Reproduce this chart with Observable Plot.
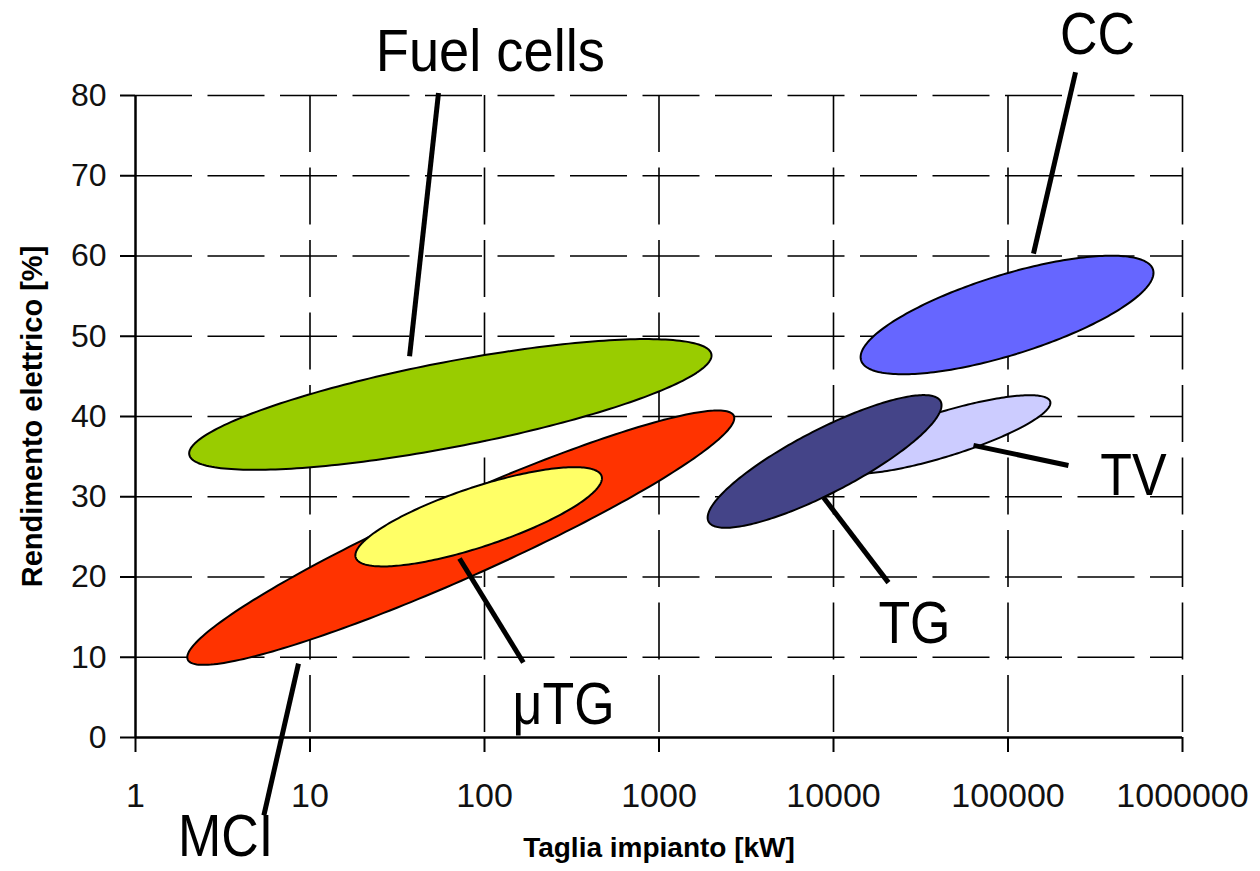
<!DOCTYPE html>
<html><head><meta charset="utf-8">
<script src="https://cdn.jsdelivr.net/npm/d3@7"></script>
<script src="https://cdn.jsdelivr.net/npm/@observablehq/plot@0.6"></script>
<style>html,body{margin:0;padding:0;background:#fff;overflow:hidden}</style>
</head><body><div id="chart"></div>
<script>
// ---- data ----
const technologies = ["Fuel cells", "MCI", "μTG", "CC", "TV", "TG"];
// each band: size range (kW) with efficiency at both ends, and vertical half-spread (%)
const sizeMinKW     = [2.03, 1.98, 18.2, 14300, 10300, 1900];
const effAtMinSize  = [35.4, 10.0, 22.7, 47.4, 33.8, 27.4];
const sizeMaxKW     = [2000, 2700, 471, 682000, 175000, 41600];
const effAtMaxSize  = [47.6, 39.8, 32.3, 57.9, 41.7, 41.4];
const effHalfSpread = [5.4, 5.4, 3.9, 5.2, 2.9, 4.4];

// annotation anchors (data units)
const labelKW    = [108, 3.28, 284, 326000, 524000, 29100];
const labelEff   = [83.1, -14.8, 1.7, 85.2, 30.2, 11.8];
const leaderKW1  = [54.5, 8.59, 71.9, 243800, 63400, 8770];
const leaderEff1 = [80.3, 9.2, 22.3, 82.9, 36.4, 29.9];
const leaderKW2  = [37.2, 5.44, 167, 140000, 222000, 20650];
const leaderEff2 = [47.5, -9.7, 9.35, 60.3, 33.9, 19.3];

const xTicks = [1, 10, 100, 1000, 10000, 100000, 1000000];
const xTickLabels = ["1", "10", "100", "1000", "10000", "100000", "1000000"];
const yTicks = [0, 10, 20, 30, 40, 50, 60, 70, 80];
const xTitle = "Taglia impianto [kW]";
const yTitle = "Rendimento elettrico [%]";

// ---- styles ----
const ellipseFills = ["#99cc00", "#ff3300", "#ffff66", "#6666ff", "#ccccff", "#444488"];
const dash = "57,15.5";

function outline(i) {
  const l0 = Math.log10(sizeMinKW[i]), l1 = Math.log10(sizeMaxKW[i]);
  const cx = (l0 + l1) / 2, ux = (l1 - l0) / 2;
  const cy = (effAtMinSize[i] + effAtMaxSize[i]) / 2, uy = (effAtMaxSize[i] - effAtMinSize[i]) / 2;
  const h = effHalfSpread[i];
  return d3.range(0, 241).map(k => {
    const t = k / 240 * 2 * Math.PI;
    return {kw: Math.pow(10, cx + Math.cos(t) * ux), eff: cy + Math.cos(t) * uy + Math.sin(t) * h};
  });
}

const labels = technologies.map((name, i) => ({name, kw: labelKW[i], eff: labelEff[i]}));
const leaders = technologies.map((name, i) => ({name, kw1: leaderKW1[i], e1: leaderEff1[i], kw2: leaderKW2[i], e2: leaderEff2[i]}));

const marks = [
  Plot.ruleY(yTicks.filter(d => d > 0), {y: d => d, x1: 1, x2: 1e6, stroke: "#000", strokeWidth: 1.6, strokeDasharray: dash}),
  Plot.ruleX(xTicks.filter(d => d > 1), {x: d => d, y1: 80, y2: 0, stroke: "#000", strokeWidth: 1.6, strokeDasharray: dash}),
  Plot.ruleX([1], {x: d => d, y1: 80, y2: 0, stroke: "#000", strokeWidth: 2.5}),
  Plot.ruleY([0], {y: d => d, x1: 1, x2: 1e6, stroke: "#000", strokeWidth: 2.5}),
];
technologies.forEach((name, i) => {
  marks.push(Plot.line(outline(i), {x: "kw", y: "eff", fill: ellipseFills[i], stroke: "#000", strokeWidth: 2, strokeLinejoin: "round"}));
});
marks.push(
  Plot.link(leaders, {x1: "kw1", y1: "e1", x2: "kw2", y2: "e2", stroke: "#000", strokeWidth: 5}),
  Plot.text(labels, {x: "kw", y: "eff", text: "name", fontSize: 59, lineAnchor: "bottom", fill: "#000"}),
  Plot.axisY({ticks: yTicks, tickSize: 15, tickPadding: 14, fontSize: 32, strokeWidth: 2, label: null, fill: "#111"}),
  Plot.axisX({ticks: xTicks, tickFormat: d => xTickLabels[xTicks.indexOf(d)], tickSize: 15, tickPadding: 30, fontSize: 34, strokeWidth: 2, label: null, fill: "#111"}),
  Plot.text([xTitle], {text: d => d, frameAnchor: "bottom", textAnchor: "middle", dy: 119, lineAnchor: "bottom", fontSize: 28, fontWeight: "bold"}),
  Plot.text([yTitle], {text: d => d, frameAnchor: "left", textAnchor: "middle", dx: -94, rotate: -90, lineAnchor: "bottom", fontSize: 29, fontWeight: "bold"})
);

const svg = Plot.plot({
  width: 1260, height: 871,
  marginLeft: 135, marginRight: 78, marginTop: 95, marginBottom: 134,
  x: {type: "log", domain: [1, 1e6]},
  y: {domain: [0, 80]},
  style: {fontFamily: "'Liberation Sans', Arial, Helvetica, sans-serif", background: "#fff", color: "#000", overflow: "visible"},
  marks
});

// condensed look of the big labels
svg.querySelectorAll("text").forEach(t => {
  if (technologies.includes(t.textContent)) {
    const tr = t.getAttribute("transform");
    const sx = t.textContent === "Fuel cells" ? 0.92 : 0.88;
    if (tr) t.setAttribute("transform", tr + ` scale(${sx},1)`);
  }
});
document.getElementById("chart").appendChild(svg);
</script>
</body></html>
